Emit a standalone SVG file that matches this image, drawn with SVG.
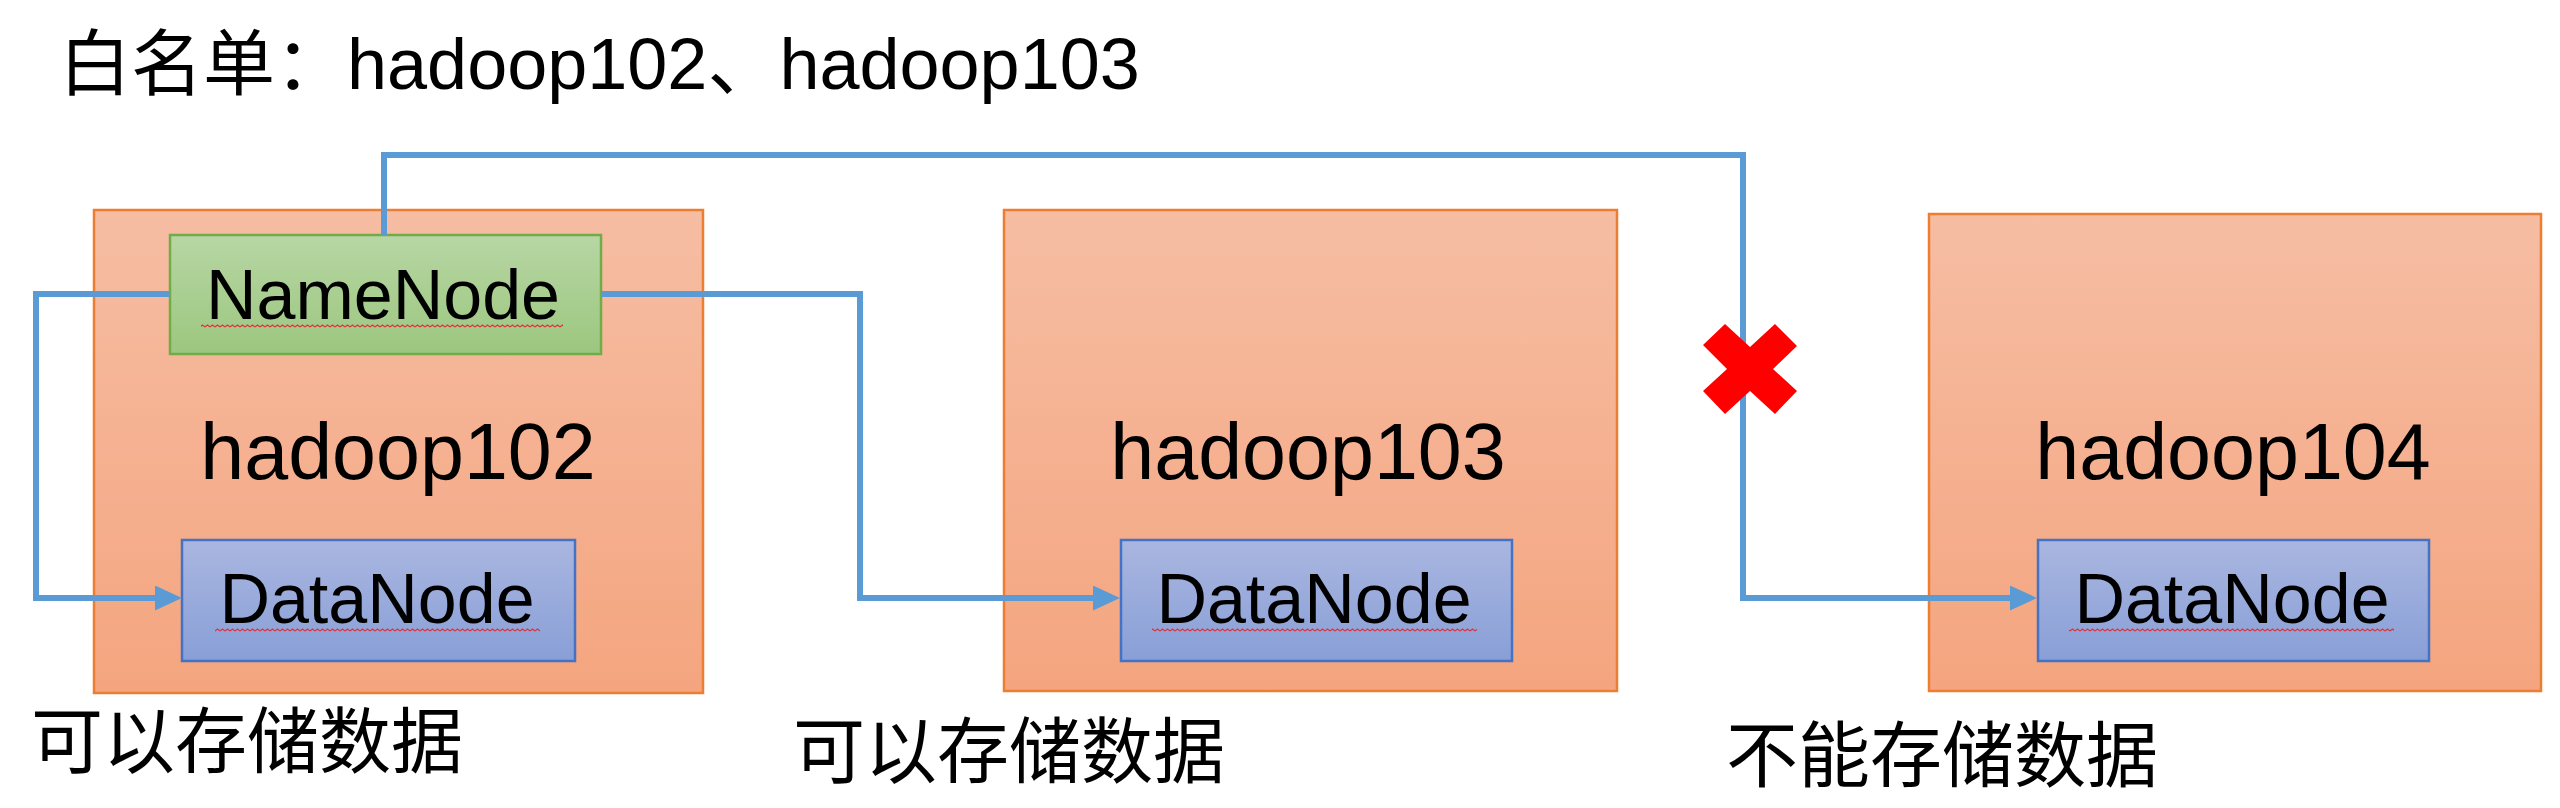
<svg xmlns="http://www.w3.org/2000/svg" width="2560" height="808" viewBox="0 0 2560 808">
<style>
.host{stroke:#ED7D31;stroke-width:2.5;fill:url(#gHost)}
.nn{stroke:#70AD47;stroke-width:2.5;fill:url(#gNN)}
.dn{stroke:#4472C4;stroke-width:2.5;fill:url(#gDN)}
.t{font-family:"Liberation Sans",Arial,"Noto Sans CJK SC",sans-serif;fill:#000}
.big{font-size:79px;text-anchor:middle}
.mid{font-size:70px;text-anchor:middle}
.cjk{font-family:"Liberation Sans","Noto Sans CJK SC",sans-serif;font-size:72px;fill:#000}
.conn{fill:none;stroke:#5B9BD5;stroke-width:6;stroke-linejoin:miter}
</style>
<defs>
<linearGradient id="gHost" x1="0" y1="0" x2="0" y2="1"><stop offset="0" stop-color="#F6BDA3"/><stop offset="1" stop-color="#F4A57F"/></linearGradient>
<linearGradient id="gNN" x1="0" y1="0" x2="0" y2="1"><stop offset="0" stop-color="#B7D6A4"/><stop offset="1" stop-color="#9CC77F"/></linearGradient>
<linearGradient id="gDN" x1="0" y1="0" x2="0" y2="1"><stop offset="0" stop-color="#AAB6E0"/><stop offset="1" stop-color="#889FD7"/></linearGradient>
<pattern id="sq" width="5" height="4" patternUnits="userSpaceOnUse"><path d="M0,3 L2.5,1 L5,3" fill="none" stroke="#E0303A" stroke-width="1.1"/></pattern>
<marker id="arr" markerUnits="userSpaceOnUse" markerWidth="28" markerHeight="26" refX="2" refY="12.5" orient="auto"><path d="M0,0 L27,12.5 L0,25 Z" fill="#5B9BD5"/></marker>
</defs>
<rect width="2560" height="808" fill="#fff"/>
<text class="cjk" x="59" y="89">白名单：hadoop102、hadoop103</text>
<g id="hadoop102">
<rect class="host" x="94" y="210" width="609" height="483"/>
<text class="t big" x="398" y="479">hadoop102</text>
</g>
<g id="hadoop103">
<rect class="host" x="1004" y="210" width="613" height="481"/>
<text class="t big" x="1308" y="479">hadoop103</text>
</g>
<g id="hadoop104">
<rect class="host" x="1929" y="214" width="612" height="477"/>
<text class="t big" x="2233" y="479">hadoop104</text>
</g>
<g id="namenode">
<rect class="nn" x="170" y="235" width="431" height="119"/>
<text class="t mid" x="383" y="319">NameNode</text>
<rect x="201" y="324" width="362" height="4" fill="url(#sq)"/>
</g>
<g id="datanode102">
<rect class="dn" x="182" y="540" width="393" height="121"/>
<text class="t mid" x="377" y="623">DataNode</text>
<rect x="215" y="628" width="325" height="4" fill="url(#sq)"/>
</g>
<g id="datanode103">
<rect class="dn" x="1121" y="540" width="391" height="121"/>
<text class="t mid" x="1314" y="623">DataNode</text>
<rect x="1152" y="628" width="325" height="4" fill="url(#sq)"/>
</g>
<g id="datanode104">
<rect class="dn" x="2038" y="540" width="391" height="121"/>
<text class="t mid" x="2232" y="623">DataNode</text>
<rect x="2069" y="628" width="325" height="4" fill="url(#sq)"/>
</g>
<g id="connectors">
<path class="conn" d="M170,294 H36 V598 H157" marker-end="url(#arr)"/>
<path class="conn" d="M601,294 H860 V598 H1095" marker-end="url(#arr)"/>
<path class="conn" d="M384,235 V155 H1743 V598 H2012" marker-end="url(#arr)"/>
</g>
<g id="blocked">
<polygon fill="#FF0000" points="1725,324 1750,347 1775,324 1797,346 1773,369 1797,391 1775,414 1750,391 1725,414 1703,391 1727,369 1703,345"/>
</g>
<g id="labels">
<text class="cjk" x="31" y="767">可以存储数据</text>
<text class="cjk" x="793" y="777">可以存储数据</text>
<text class="cjk" x="1726" y="781">不能存储数据</text>
</g>
</svg>
